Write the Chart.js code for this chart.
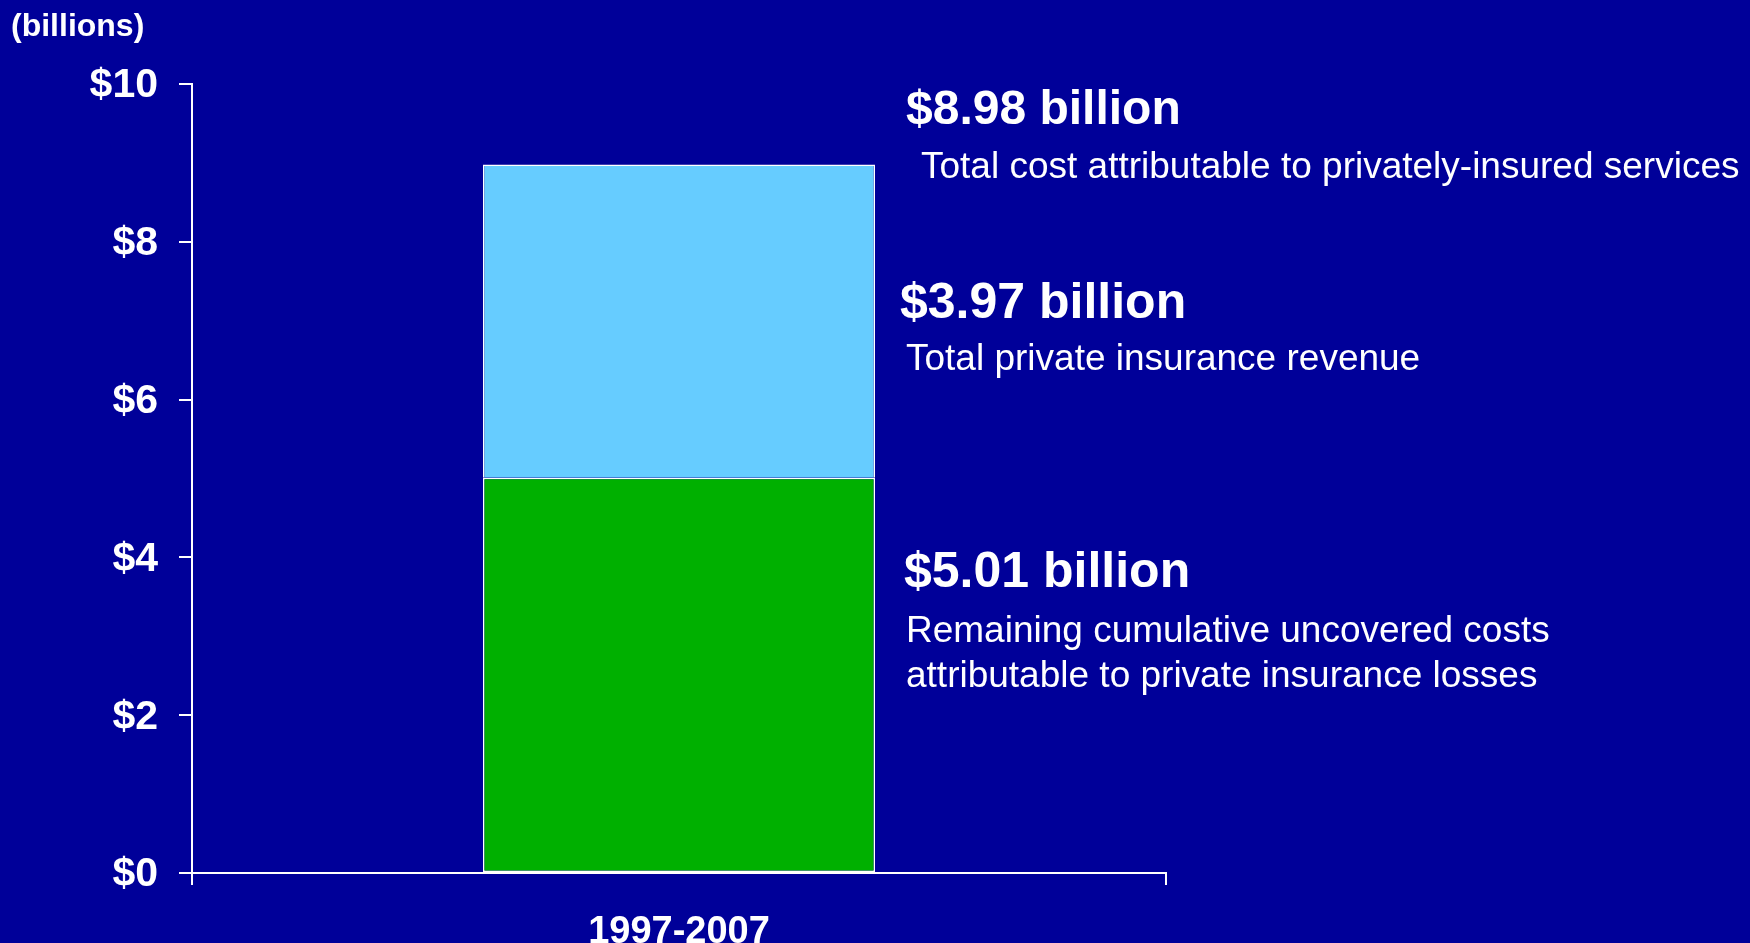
<!DOCTYPE html>
<html>
<head>
<meta charset="utf-8">
<script src="https://cdn.jsdelivr.net/npm/chart.js@4/dist/chart.umd.min.js"></script>
<style>
  html, body { margin: 0; padding: 0; background: #000099; }
  #wrap { width: 1750px; height: 943px; position: relative; }
</style>
</head>
<body>
<div id="wrap"><canvas id="chart"></canvas></div>
<script>
// data
const categories = ['1997-2007'];
const uncoveredLosses = [5.01];
const insuranceRevenue = [3.97];
const yTickValues = [0, 2, 4, 6, 8, 10];

// callout text on the right
const calloutAmounts = ['$8.98 billion', '$3.97 billion', '$5.01 billion'];
const calloutNotes = [
  ['Total cost attributable to privately-insured services'],
  ['Total private insurance revenue'],
  ['Remaining cumulative uncovered costs', 'attributable to private insurance losses'],
];

const FONT = '"Liberation Sans", Arial, sans-serif';

const calloutPlugin = {
  id: 'callouts',
  afterDraw(chart) {
    const ctx = chart.ctx;
    ctx.save();
    ctx.fillStyle = '#ffffff';
    ctx.textAlign = 'left';
    ctx.textBaseline = 'middle';

    ctx.font = 'bold 32px ' + FONT;
    ctx.fillText('(billions)', 11, 27);

    // amount headline + note lines, rough slide positions
    const spots = [
      { x: 906, y: 111, size: 48, nx: 921, ny: 168 },
      { x: 900, y: 304, size: 50, nx: 906, ny: 360 },
      { x: 904, y: 573, size: 50, nx: 906, ny: 632 },
    ];
    spots.forEach((s, i) => {
      ctx.font = 'bold ' + s.size + 'px ' + FONT;
      ctx.fillText(calloutAmounts[i], s.x, s.y);
      ctx.font = '37px ' + FONT;
      calloutNotes[i].forEach((line, j) => ctx.fillText(line, s.nx, s.ny + j * 45));
    });
    ctx.restore();
  },
};

new Chart(document.getElementById('chart'), {
  type: 'bar',
  data: {
    labels: categories,
    datasets: [
      {
        label: 'Uncovered losses',
        data: uncoveredLosses,
        backgroundColor: '#00B000',
        borderColor: '#ffffff',
        borderWidth: 1.5,
        borderSkipped: false,
      },
      {
        label: 'Insurance revenue',
        data: insuranceRevenue,
        backgroundColor: '#66CCFF',
        borderColor: '#ffffff',
        borderWidth: 1.5,
        borderSkipped: 'bottom',
      },
    ],
  },
  options: {
    responsive: true,
    maintainAspectRatio: false,
    devicePixelRatio: 1,
    animation: false,
    layout: { padding: { top: 84, right: 584, left: 0, bottom: 0 } },
    datasets: { bar: { categoryPercentage: 1, barPercentage: 0.4025 } },
    plugins: { legend: { display: false }, tooltip: { enabled: false } },
    scales: {
      x: {
        stacked: true,
        afterFit(scale) { scale.height = 70; },
        grid: { offset: true, drawOnChartArea: false, tickLength: 12, color: '#ffffff', lineWidth: 2 },
        border: { display: true, color: '#ffffff', width: 2 },
        ticks: { color: '#ffffff', padding: 25, font: { family: FONT, size: 38, weight: 'bold' } },
      },
      y: {
        stacked: true,
        min: 0,
        max: 10,
        afterFit(scale) { scale.width = 192; },
        afterBuildTicks(scale) { scale.ticks = yTickValues.map(v => ({ value: v })); },
        grid: { drawOnChartArea: false, tickLength: 13, color: '#ffffff', lineWidth: 2 },
        border: { display: true, color: '#ffffff', width: 2 },
        ticks: {
          color: '#ffffff',
          padding: 21,
          labelOffset: 2,
          font: { family: FONT, size: 41, weight: 'bold' },
          callback: v => '$' + v,
        },
      },
    },
  },
  plugins: [calloutPlugin],
});
</script>
</body>
</html>
